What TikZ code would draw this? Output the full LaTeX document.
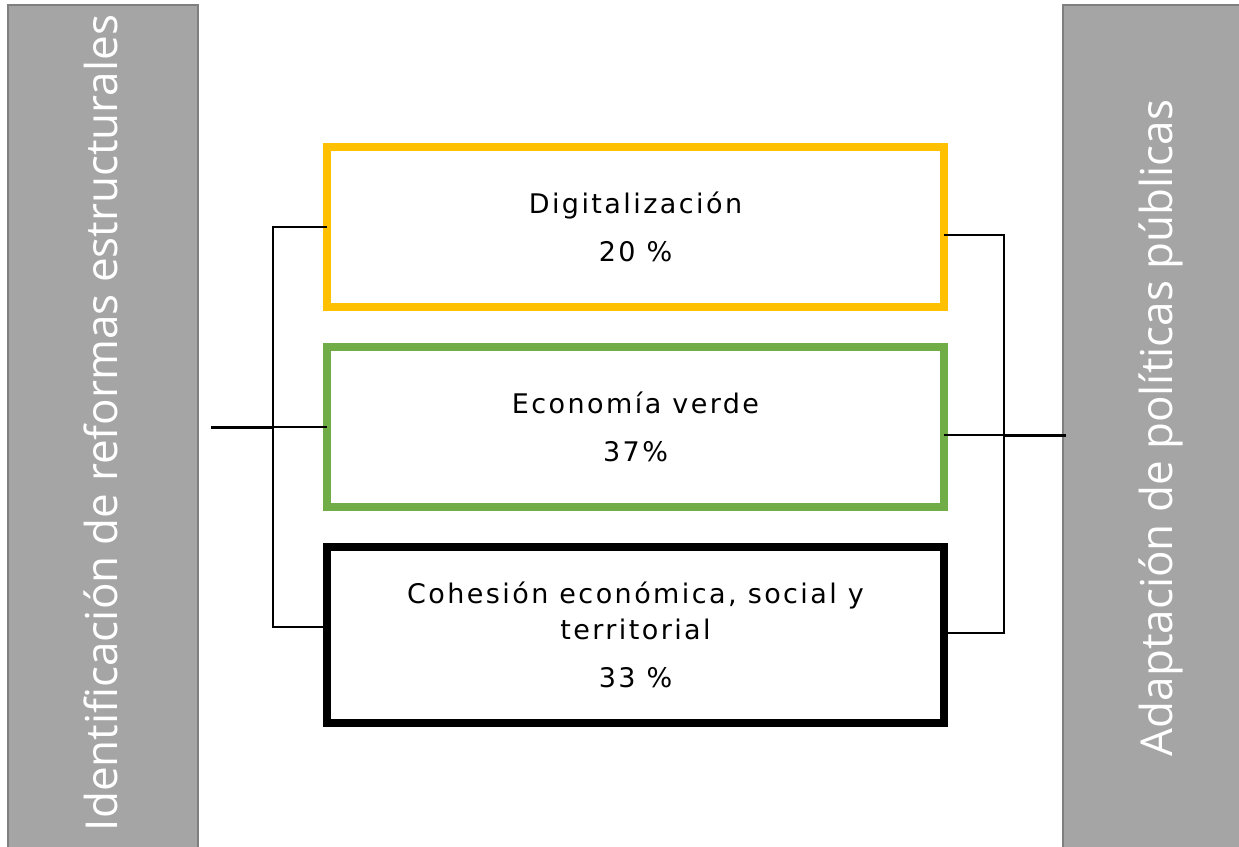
\documentclass[tikz,border=0pt]{standalone}
\usepackage{fontspec}
\setmainfont{DejaVu Sans}
\newfontfamily\boxfont{DejaVu Sans}[LetterSpace=9]
\newfontfamily\sidefont{Open Sans}
\definecolor{yel}{HTML}{FFC000}
\definecolor{grn}{HTML}{70AD47}
\definecolor{barfill}{HTML}{A5A5A5}
\definecolor{barline}{HTML}{7F7F7F}
\begin{document}
\begin{tikzpicture}[x=1pt,y=-1pt,
  box/.style={draw,line width=7.5pt,fill=white,minimum width=617pt,outer sep=0pt,inner sep=0pt,align=center,
    font=\boxfont\fontsize{27}{36}\selectfont},
  bar/.style={fill=barfill,draw=barline,line width=1.5pt},
  sidetext/.style={rotate=90,anchor=base,text=white,font=\sidefont\fontsize{44}{52}\selectfont,inner sep=0pt},
  conn/.style={line width=2pt},
  thinconn/.style={line width=1.2pt},
  stub/.style={line width=3pt}]
\useasboundingbox (0,0) rectangle (1239,846);
\clip (0,0) rectangle (1239,846);
\fill[white] (0,0) rectangle (1239,846);
% side bars
\draw[bar] (8,5) rectangle (198,870);
\draw[bar] (1063,5) rectangle (1260,870);
\node[sidetext] (ltext) at (117,423) {Identificación de reformas estructurales};
\node[sidetext] (rtext) at (1172,428) {Adaptación de políticas públicas};
% boxes
\node[box,draw=yel,minimum height=160pt] (b1) at (635.5,227) {Digitalización\\[12pt]20 \%};
\node[box,draw=grn,minimum height=160pt] (b2) at (635.5,427) {Economía verde\\[12pt]37\%};
\node[box,draw=black,minimum height=176pt] (b3) at (635.5,635) {Cohesión económica, social y\\territorial\\[12pt]33 \%};
% coordinates
\coordinate (L) at (273,427);
\coordinate (Lin) at (211,427);
\coordinate (R) at (1004,435);
\coordinate (Rout) at (1066,435);
\coordinate (b1w) at (b1.west);
\coordinate (b3w) at ([yshift=8pt]b3.west);
\coordinate (b1e) at ([yshift=-8pt]b1.east);
\coordinate (b2e) at ([yshift=-8pt]b2.east);
\coordinate (b3e) at ([yshift=2pt]b3.east);
% left connectors
\draw[conn] (b1w) -- (b1w -| L) -- (b3w -| L) -- (b3w);
\draw[conn] (L) -- (b2.west);
\draw[stub] (Lin) -- (L);
% right connectors
\draw[conn] (b1e) -- (b1e -| R) -- (b3e -| R) -- (b3e);
\draw[thinconn] (b2e) -- (R);
\draw[stub] (R) -- (Rout);
\end{tikzpicture}
\end{document}
